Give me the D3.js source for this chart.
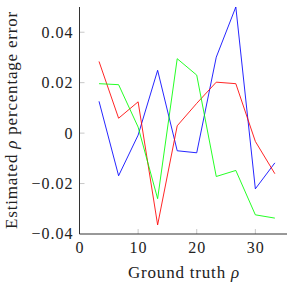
<!DOCTYPE html>
<html>
<head>
<meta charset="utf-8">
<script src="https://cdn.jsdelivr.net/npm/d3@7"></script>
<style>
  body { margin: 0; background: #fff; }
  svg text { font-family: "Liberation Serif", "Times New Roman", serif; fill: #222; }
</style>
</head>
<body>
<svg id="chart" width="287" height="287"></svg>
<script>
// ground truth rho values (x)
const groundTruth = [3.33, 6.67, 10, 13.33, 16.67, 20, 23.33, 26.67, 30, 33.33];

// estimated rho percentage error, one array per run
const blueSeries  = [0.0126, -0.0169, -0.0008, 0.0249, -0.0070, -0.0078, 0.0301, 0.0500, -0.0221, -0.0118];
const redSeries   = [0.0284, 0.0059, 0.0124, -0.0364, 0.0029, 0.0118, 0.0202, 0.0196, -0.0033, -0.0161];
const greenSeries = [0.0196, 0.0192, 0.0024, -0.0260, 0.0295, 0.0230, -0.0172, -0.0148, -0.0324, -0.0337];

const xTicks = [0, 10, 20, 30];
const yTicks = [-0.04, -0.02, 0, 0.02, 0.04];

const series = [
  { values: blueSeries, color: "#0000ff" },
  { values: redSeries, color: "#ff0000" },
  { values: greenSeries, color: "#00ff00" }
];

const svg = d3.select("#chart");
const margin = { top: 7, right: 0, bottom: 53, left: 79.5 };
const width = 287 - margin.left - margin.right;
const height = 287 - margin.top - margin.bottom;

const xScale = d3.scaleLinear().domain([0, 35.4]).range([0, width]);
const yScale = d3.scaleLinear().domain([-0.04, 0.05]).range([height, 0]);

const g = svg.append("g")
    .attr("transform", "translate(" + margin.left + "," + margin.top + ")");

// tick marks (inward, grey)
g.selectAll(".xtick")
    .data(xTicks.filter(d => d !== 0))
    .enter().append("line")
    .attr("x1", d => xScale(d)).attr("x2", d => xScale(d))
    .attr("y1", height).attr("y2", height - 5)
    .style("stroke", "#c8c8c8").style("stroke-width", 1);

g.selectAll(".ytick")
    .data(yTicks.filter(d => d !== -0.04))
    .enter().append("line")
    .attr("y1", d => yScale(d)).attr("y2", d => yScale(d))
    .attr("x1", 0).attr("x2", 5)
    .style("stroke", "#c8c8c8").style("stroke-width", 1);

// tick labels
const fmt = d => d === 0 ? "0" : (d < 0 ? "\u2212" : "") + Math.abs(d).toFixed(2);

g.selectAll(".ylabel")
    .data(yTicks)
    .enter().append("text")
    .attr("x", -6)
    .attr("y", d => yScale(d))
    .attr("dy", "0.34em")
    .attr("text-anchor", "end")
    .style("font-size", "16px")
    .style("letter-spacing", "1px")
    .text(fmt);

g.selectAll(".xlabel")
    .data(xTicks)
    .enter().append("text")
    .attr("x", d => xScale(d) + 0.5)
    .attr("y", height + 19)
    .attr("text-anchor", "middle")
    .style("font-size", "16px")
    .style("letter-spacing", "1px")
    .text(d => d);

// data lines
const line = d3.line()
    .x((d, i) => xScale(groundTruth[i]))
    .y(d => yScale(d));

series.forEach(s => {
    g.append("path")
        .datum(s.values)
        .attr("d", line)
        .style("fill", "none")
        .style("stroke", s.color)
        .style("stroke-width", 1)
        .style("opacity", 0.85);
});

// axis lines (left and bottom only)
g.append("line")
    .attr("x1", 0).attr("x2", 0).attr("y1", 0).attr("y2", height)
    .style("stroke", "#333").style("stroke-width", 1);
g.append("line")
    .attr("x1", 0).attr("x2", width).attr("y1", height).attr("y2", height)
    .style("stroke", "#333").style("stroke-width", 1);

// axis titles
svg.append("text")
    .attr("x", 184)
    .attr("y", 278)
    .attr("text-anchor", "middle")
    .style("font-size", "17px")
    .style("letter-spacing", "0.8px")
    .html('Ground truth <tspan font-style="italic">\u03c1</tspan>');

svg.append("text")
    .attr("transform", "translate(17,120) rotate(-90)")
    .attr("text-anchor", "middle")
    .style("font-size", "17px")
    .style("letter-spacing", "0.8px")
    .html('Estimated <tspan font-style="italic">\u03c1</tspan> percentage error');
</script>
</body>
</html>
